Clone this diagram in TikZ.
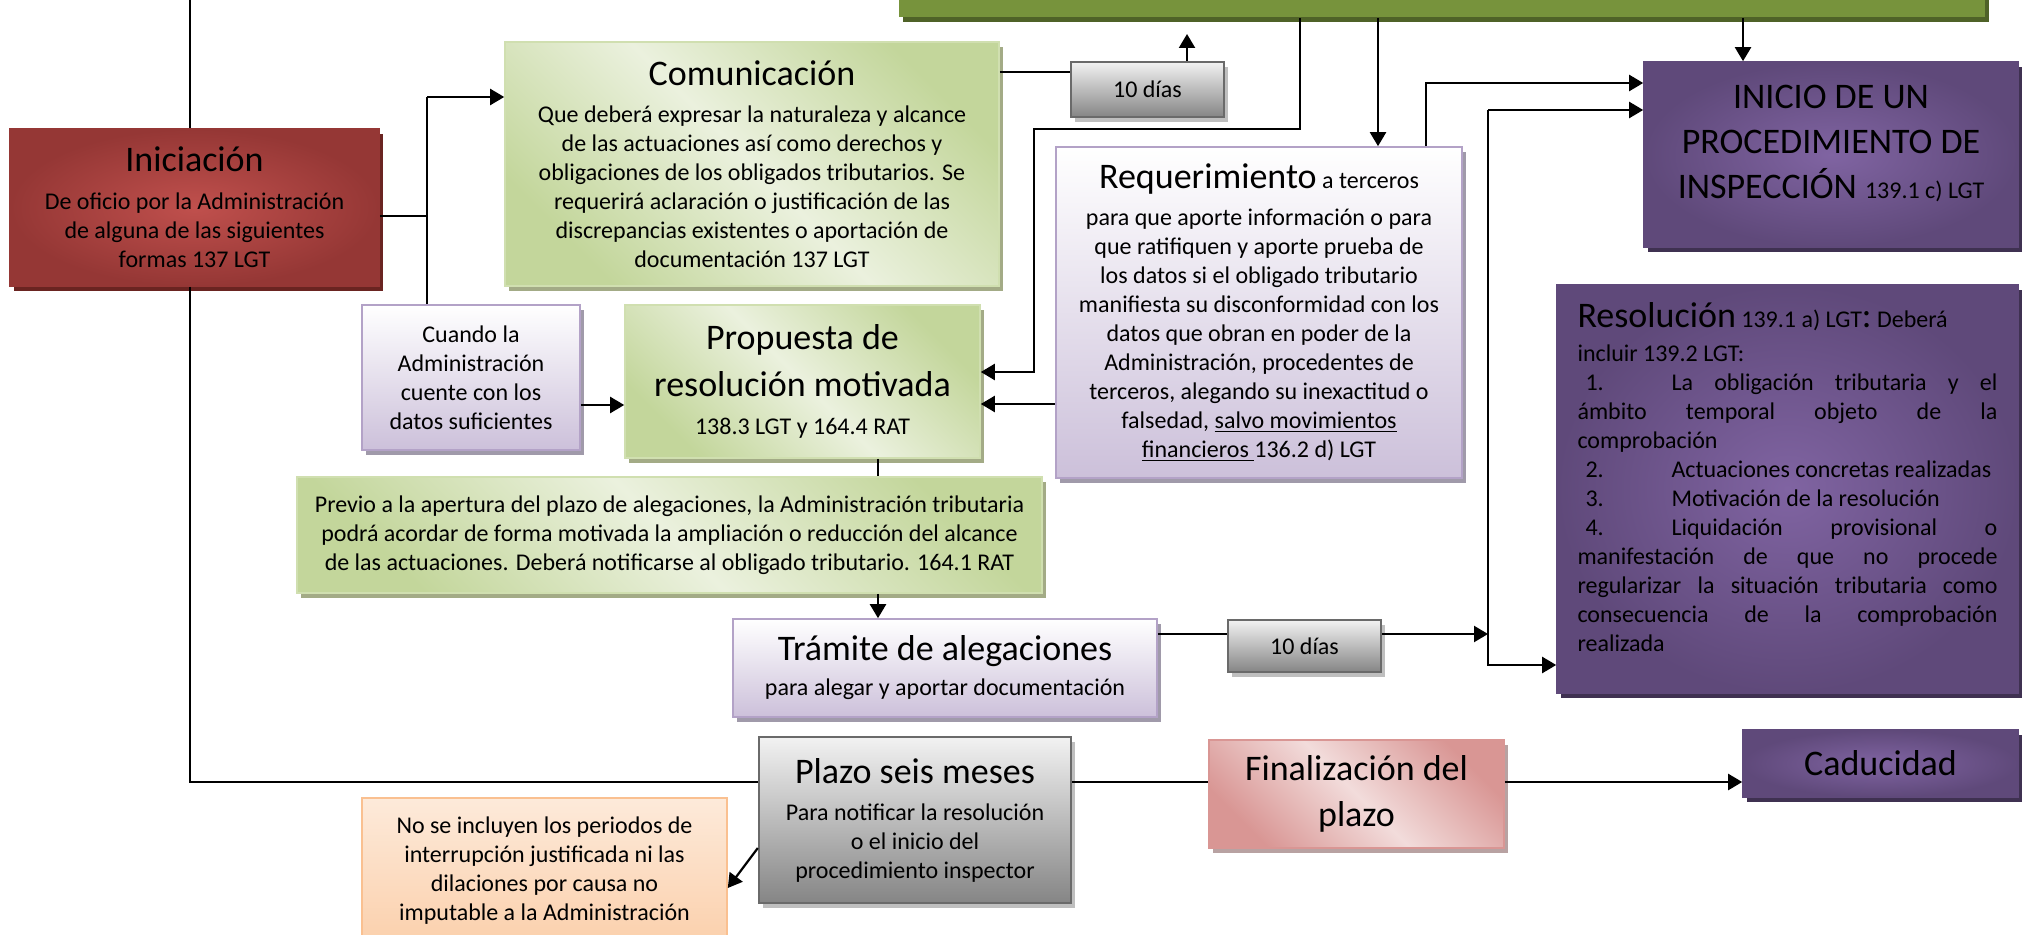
\documentclass[tikz,border=0pt]{standalone}
\usepackage{fontspec}
\setmainfont{Carlito}
\usetikzlibrary{arrows.meta,shadows}
\newcommand\bodyf{\fontsize{12}{14.5}\selectfont}
\newcommand\titf{\fontsize{18}{21.5}\selectfont}
\definecolor{redin}{HTML}{C0504D}
\definecolor{redout}{HTML}{953735}
\definecolor{redsh}{HTML}{6A2421}
\definecolor{grnL}{HTML}{EBF1DE}
\definecolor{grnD}{HTML}{C3D69B}
\definecolor{grnB}{HTML}{D0DFB0}
\definecolor{grnsh}{HTML}{A3AB86}
\definecolor{lavD}{HTML}{CCC0DA}
\definecolor{lavB}{HTML}{B3A2C7}
\definecolor{lavsh}{HTML}{A09AAA}
\definecolor{grayL}{HTML}{F2F2F2}
\definecolor{grayD}{HTML}{858585}
\definecolor{grayB}{HTML}{6A6A6A}
\definecolor{graysh}{HTML}{BFBFBF}
\definecolor{purin}{HTML}{8064A2}
\definecolor{purout}{HTML}{5F497A}
\definecolor{pursh}{HTML}{3F3151}
\definecolor{orgL}{HTML}{FDEADA}
\definecolor{orgD}{HTML}{FBD0AC}
\definecolor{orgB}{HTML}{FAC090}
\definecolor{pinkL}{HTML}{F2DCDB}
\definecolor{pinkD}{HTML}{D99694}
\definecolor{pinksh}{HTML}{B8A2A2}
\definecolor{barfill}{HTML}{77933C}
\definecolor{barsh}{HTML}{4F6228}
\tikzset{
  bx/.style={inner sep=0pt, align=center, font=\bodyf, line width=0.8pt},
  shd/.style={drop shadow={shadow xshift=2pt, shadow yshift=-2.5pt, fill=#1, opacity=1}},
  redbox/.style={bx, draw=redout, inner color=redin, outer color=redout, shd=redsh},
  grnbox/.style={bx, draw=grnB, top color=grnD, bottom color=grnD, middle color=grnL, shading angle=-45, shd=grnsh},
  lavbox/.style={bx, draw=lavB, top color=white, bottom color=lavD, shd=lavsh},
  graybox/.style={bx, draw=grayB, line width=1.2pt, top color=grayL, bottom color=grayD, shd=graysh},
  purbox/.style={bx, draw=purout, inner color=purin, outer color=purout, shd=pursh},
  orgbox/.style={bx, draw=orgB, top color=orgL, bottom color=orgD},
  pinkbox/.style={bx, draw=pinkD, top color=pinkD, bottom color=pinkD, middle color=pinkL, shading angle=-45, shd=pinksh},
  conn/.style={line width=1.1pt},
  arr/.style={conn, -{Triangle[length=7pt,width=8pt]}},
}
\begin{document}
\begin{tikzpicture}[x=0.5pt,y=-0.5pt]
\fill[white] (0,0) rectangle (2028,935);
\clip (0,0) rectangle (2028,935);

% nodes
\node[bx, fill=barfill, minimum width=543pt, minimum height=18.5pt, shd=barsh] (bar) at (1442,-1.5) {};

\node[redbox, minimum width=184.5pt, minimum height=78.5pt] (inic) at (194.5,207.5)
  {{\titf Iniciación}\\[4.5pt]De oficio por la Administración\\de alguna de las siguientes\\formas 137 LGT};

\node[grnbox, minimum width=247pt, minimum height=122pt] (comu) at (752,164)
  {{\titf Comunicación}\\[4pt]Que deberá expresar la naturaleza y alcance\\de las actuaciones así como derechos y\\obligaciones de los obligados tributarios. Se\\requerirá aclaración o justificación de las\\discrepancias existentes o aportación de\\documentación 137 LGT};

\node[graybox, minimum width=76.5pt, minimum height=27.5pt] (dias1) at (1147.5,89.5) {10 días};

\node[lavbox, minimum width=109pt, minimum height=72.5pt] (cuando) at (471,377.5)
  {Cuando la\\Administración\\cuente con los\\datos suficientes};

\node[grnbox, minimum width=177.5pt, minimum height=76.5pt] (prop) at (802.5,381.5)
  {{\titf Propuesta de}\\[7pt]{\titf resolución motivada}\\[4.5pt]138.3 LGT y 164.4 RAT};

\node[lavbox, minimum width=203pt, minimum height=165.5pt] (req) at (1259,312.5)
  {{\titf Requerimiento} a terceros\\[4pt]para que aporte información o para\\que ratifiquen y aporte prueba de\\los datos si el obligado tributario\\manifiesta su disconformidad con los\\datos que obran en poder de la\\Administración, procedentes de\\terceros, alegando su inexactitud o\\falsedad, \underline{salvo movimientos}\\\underline{financieros\ }136.2 d) LGT};

\node[purbox, minimum width=187pt, minimum height=92.5pt] (inicio) at (1831,154.5)
  {\parbox[c][92.5pt][t]{187pt}{\centering\fontsize{18}{22.5}\selectfont\vspace{11.5pt}INICIO DE UN\\PROCEDIMIENTO DE\\INSPECCIÓN {\bodyf 139.1 c) LGT}\par}};

\node[purbox, minimum width=230.5pt, minimum height=204pt] (resol) at (1787.5,489)
  {\parbox[c][204pt][t]{210pt}{\bodyf\vspace{9pt}%
{\titf Resolución} 139.1 a) LGT{\titf :} Deberá\\[2.5pt]
incluir 139.2 LGT:\par
\makebox[47pt][l]{\hspace{4pt}1.}La obligación tributaria y el\linebreak ámbito temporal objeto de la\linebreak comprobación\par
\makebox[47pt][l]{\hspace{4pt}2.}Actuaciones concretas realizadas\par
\makebox[47pt][l]{\hspace{4pt}3.}Motivación de la resolución\par
\makebox[47pt][l]{\hspace{4pt}4.}Liquidación provisional o\linebreak manifestación de que no procede\linebreak regularizar la situación tributaria como\linebreak consecuencia de la comprobación\linebreak realizada\par}};

\node[grnbox, minimum width=372.5pt, minimum height=58pt] (previo) at (669.5,535)
  {Previo a la apertura del plazo de alegaciones, la Administración tributaria\\podrá acordar de forma motivada la ampliación o reducción del alcance\\de las actuaciones. Deberá notificarse al obligado tributario. 164.1 RAT};

\node[lavbox, minimum width=212pt, minimum height=49pt] (tram) at (945,668)
  {{\titf Trámite de alegaciones}\\[3pt]para alegar y aportar documentación};

\node[graybox, minimum width=76.5pt, minimum height=26pt] (dias2) at (1304.5,646) {10 días};

\node[graybox, minimum width=156pt, minimum height=83pt] (plazo) at (915,820)
  {{\titf Plazo seis meses}\\[4pt]Para notificar la resolución\\o el inicio del\\procedimiento inspector};

\node[orgbox, minimum width=182.5pt, minimum height=73pt] (orange) at (544.5,871)
  {No se incluyen los periodos de\\interrupción justificada ni las\\dilaciones por causa no\\imputable a la Administración};

\node[pinkbox, minimum width=147.5pt, minimum height=54pt] (fin) at (1356.5,794)
  {{\titf Finalización del}\\[8.5pt]{\titf plazo}};

\node[purbox, minimum width=137.5pt, minimum height=33.5pt] (cad) at (1880.5,763.5)
  {{\titf Caducidad}};

% coordinates
\coordinate (m0) at (190,0);
\coordinate (m1) at (190,782);
\coordinate (jI) at (427,216);
\coordinate (jT) at (427,97);
\coordinate (d1up) at (1187,34);
\coordinate (b1) at (1300,129);
\coordinate (b2) at (1034,129);
\coordinate (b3) at (1378,147);
\coordinate (b4) at (1743,62);
\coordinate (r1) at (1426,83);
\coordinate (v2t) at (1488,110);
\coordinate (v2b) at (1488,665);
\coordinate (p1) at (878,0);

% connectors
\draw[conn] (m0) -- (m0 |- inic.north);
\draw[conn] (m0 |- inic.south) -- (m1) -- (m1 -| plazo.west);
\draw[conn] (plazo.east |- m1) -- (fin.west |- m1);
\draw[arr] (fin.east |- m1) -- (cad.west |- m1);

\draw[conn] (inic.east |- jI) -- (jI);
\draw[conn] (jT |- cuando.north) -- (jT);
\draw[arr] (jT) -- (jT -| comu.west);
\draw[arr] (cuando.east |- 0,405) -- (prop.west |- 0,405);

\draw[conn] (comu.east |- 0,72) -- (dias1.west |- 0,72);
\draw[arr] (d1up |- dias1.north) -- (d1up);

\draw[arr] (b1 |- bar.south) -- (b1) -- (b2) -- (b2 |- 0,372) -- (prop.east |- 0,372);
\draw[arr] (b3 |- bar.south) -- (b3 |- req.north);
\draw[arr] (b4 |- bar.south) -- (b4 |- inicio.north);
\draw[arr] (req.west |- 0,404) -- (prop.east |- 0,404);
\draw[arr] (r1 |- req.north) -- (r1) -- (r1 -| inicio.west);
\draw[arr] (v2t) -- (v2t -| inicio.west);
\draw[arr] (v2t) -- (v2b) -- (v2b -| resol.west);

\draw[conn] (tram.east |- 0,634) -- (dias2.west |- 0,634);
\draw[arr] (dias2.east |- 0,634) -- (v2b |- 0,634);

\draw[conn] (p1 |- prop.south) -- (p1 |- previo.north);
\draw[arr] (p1 |- previo.south) -- (p1 |- tram.north);

\draw[arr] (plazo.west |- 0,848) -- (orange.east |- 0,888);
\end{tikzpicture}
\end{document}
